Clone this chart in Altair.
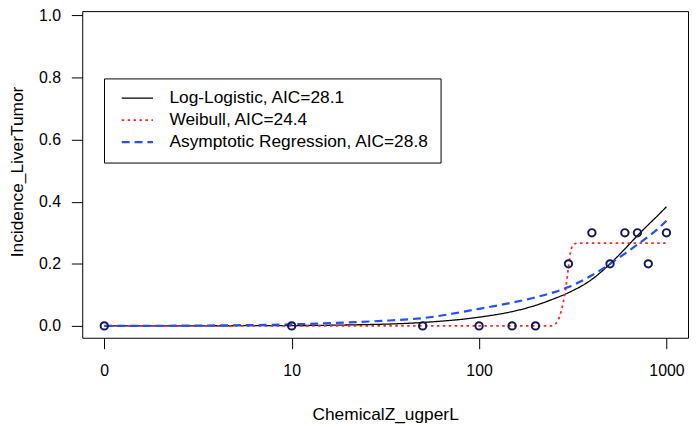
import altair as alt
import pandas as pd

# Observed data
point_dose = [0, 10, 50, 100, 150, 200, 300, 400, 500, 600, 700, 800, 1000]
point_inc = [0.0, 0.0, 0.0, 0.0, 0.0, 0.0, 0.2, 0.3, 0.2, 0.3, 0.3, 0.2, 0.3]

# Fitted curves
ll_dose = [0, 10, 20, 50, 100, 150, 200, 250, 300, 400, 500, 600, 700, 800, 900, 1000]
ll_fit = [0.0, 0.001, 0.003, 0.011, 0.028, 0.046, 0.066, 0.087, 0.107, 0.15, 0.2, 0.248, 0.291, 0.326, 0.356, 0.384]

wb_dose = [0, 10, 100, 200, 240, 255, 268, 280, 290, 300, 307, 315, 330, 360, 500, 1000]
wb_fit = [0.0, 0.0, 0.0, 0.0, 0.0, 0.006, 0.028, 0.07, 0.12, 0.19, 0.235, 0.257, 0.266, 0.267, 0.267, 0.267]

ar_dose = [0, 3, 10, 20, 30, 50, 100, 150, 200, 250, 300, 400, 500, 600, 700, 800, 900, 1000]
ar_fit = [0.0, 0.001, 0.005, 0.011, 0.016, 0.025, 0.055, 0.075, 0.092, 0.108, 0.125, 0.163, 0.2, 0.233, 0.262, 0.288, 0.313, 0.339]

series_names = ["Log-Logistic, AIC=28.1", "Weibull, AIC=24.4", "Asymptotic Regression, AIC=28.8"]
series_colors = ["black", "#ff2020", "#1f50ff"]
series_dashes = [[1, 0], [2.5, 3.5], [8, 5]]
series_widths = [1.3, 2.2, 2.0]

x_ticks = [1, 10, 100, 1000]
y_ticks = [0.0, 0.2, 0.4, 0.6, 0.8, 1.0]

FONT = "Liberation Sans"


def broken(d):
    # the zero dose is drawn at the position of 1 on the log axis
    return d if d > 0 else 1


rows = []
for name, ds, ys in zip(series_names, [ll_dose, wb_dose, ar_dose], [ll_fit, wb_fit, ar_fit]):
    for d, y in zip(ds, ys):
        rows.append({"model": name, "x": broken(d), "y": y})
curves = pd.DataFrame(rows)

pts = pd.DataFrame({"x": [broken(d) for d in point_dose], "y": point_inc})

x_scale = alt.Scale(type="log", domain=[0.7627, 1303.6], nice=False)
y_scale = alt.Scale(domain=[-0.03828, 1.01435], nice=False, zero=False)

x_axis = alt.Axis(
    values=x_ticks,
    labelExpr="datum.value < 2 ? '0' : format(datum.value, 'd')",
    title="ChemicalZ_ugperL",
    domain=False, grid=False, tickSize=11, tickColor="black", tickWidth=1,
    labelFontSize=16, labelColor="black", labelFont=FONT,
    labelBaseline="alphabetic", labelPadding=27.5,
    titleFontSize=17.5, titleFontWeight="normal", titleColor="black", titleFont=FONT,
    titleBaseline="alphabetic", titleY=82.5,
)
y_axis = alt.Axis(
    values=y_ticks, format=".1f",
    title="Incidence_LiverTumor",
    domain=False, grid=False, tickSize=11, tickColor="black", tickWidth=1,
    labelFontSize=16, labelColor="black", labelFont=FONT, labelPadding=11,
    titleFontSize=17.5, titleFontWeight="normal", titleColor="black", titleFont=FONT,
    titleAngle=270, titleBaseline="alphabetic", titleAlign="center", titleX=-60, titleY=162,
)

legend = alt.Legend(
    title=None, orient="none", legendX=22, legendY=68,
    padding=11, symbolType="stroke", symbolSize=1000, symbolStrokeWidth=1.5,
    symbolOffset=5.7, labelOffset=15.4, labelFontSize=17.5, labelColor="black",
    labelFont=FONT, strokeColor="black", fillColor="white", rowPadding=4.2,
    clipHeight=18, labelLimit=500, cornerRadius=0,
)

lines = alt.Chart(curves).mark_line(interpolate="monotone", clip=True).encode(
    x=alt.X("x:Q", scale=x_scale, axis=x_axis),
    y=alt.Y("y:Q", scale=y_scale, axis=y_axis),
    color=alt.Color("model:N", scale=alt.Scale(domain=series_names, range=series_colors), legend=legend, sort=series_names),
    strokeDash=alt.StrokeDash("model:N", scale=alt.Scale(domain=series_names, range=series_dashes), legend=legend, sort=series_names),
    strokeWidth=alt.StrokeWidth("model:N", scale=alt.Scale(domain=series_names, range=series_widths), legend=None),
    detail="model:N",
)

points = alt.Chart(pts).mark_point(shape="circle", filled=False, size=55, strokeWidth=2, color="#16165a", opacity=1).encode(
    x=alt.X("x:Q", scale=x_scale, axis=x_axis),
    y=alt.Y("y:Q", scale=y_scale, axis=y_axis),
)

chart = alt.layer(lines, points).properties(
    width=612, height=330,
    padding={"left": 75, "top": 1, "right": 3, "bottom": 88},
    autosize=alt.AutoSizeParams(type="none"),
    background="white",
).configure_view(stroke="black", strokeWidth=1)

chart.save("out.html", embed_options={"renderer": "svg", "actions": False})
